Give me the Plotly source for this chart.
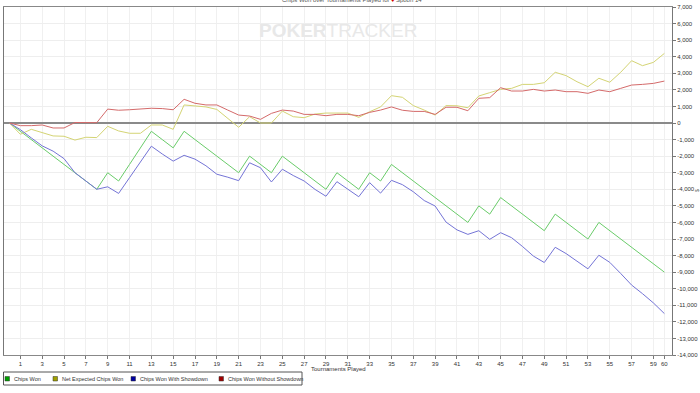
import plotly.graph_objects as go

tournaments = list(range(0, 61))

chips_won = [0, -500, -1000, -1500, -2000, -2500, -3000, -3500, -4000, -3000, -3500,
             -2500, -1500, -500, -1000, -1500, -500, -1000, -1500, -2000, -2500,
             -3000, -2000, -2500, -3000, -2000, -2500, -3000, -3500, -4000, -3000,
             -3500, -4000, -3000, -3500, -2500, -3000, -3500, -4000, -4500, -5000,
             -5500, -6000, -5000, -5500, -4500, -5000, -5500, -6000, -6500, -5500,
             -6000, -6500, -7000, -6000, -6500, -7000, -7500, -8000, -8500, -9000]

net_expected = [0, -680, -380, -580, -780, -800, -1030, -860, -880, -200, -480,
                -620, -620, -120, -120, -380, 1090, 1030, 970, 820, 280,
                -260, 380, 0, 0, 720, 380, 320, 540, 600, 600,
                600, 340, 680, 970, 1650, 1550, 1050, 780, 480, 1050,
                1040, 920, 1630, 1830, 2030, 2090, 2330, 2330, 2430, 3060,
                2860, 2490, 2190, 2700, 2460, 3060, 3760, 3460, 3660, 4200]

with_showdown = [0, -400, -900, -1380, -1700, -2150, -3000, -3500, -4000, -3850, -4250,
                 -3300, -2340, -1400, -1870, -2300, -1950, -2180, -2580, -3090, -3270,
                 -3480, -2400, -2700, -3560, -2790, -3170, -3500, -4010, -4420, -3540,
                 -4010, -4450, -3600, -4230, -3460, -3720, -4150, -4680, -5010, -5980,
                 -6450, -6720, -6500, -7020, -6620, -6920, -7450, -8030, -8420, -7500,
                 -7880, -8350, -8800, -7980, -8410, -9080, -9780, -10300, -10860, -11500]

without_showdown = [0, -160, -160, -120, -300, -300, 30, 20, 20, 840, 770,
                    800, 840, 890, 870, 800, 1430, 1190, 1090, 1090, 780,
                    480, 420, 220, 580, 780, 720, 520, 520, 440, 520,
                    520, 440, 640, 780, 970, 770, 700, 700, 520, 950,
                    950, 740, 1490, 1530, 2130, 1930, 1930, 2030, 1930, 1990,
                    1890, 1890, 1790, 1990, 1890, 2090, 2290, 2330, 2390, 2530]

series_names = ["Chips Won", "Net Expected Chips Won", "Chips Won With Showdown",
                "Chips Won Without Showdown"]
series_values = [chips_won, net_expected, with_showdown, without_showdown]
line_colors = ["#6acc6a", "#d4d474", "#7474d6", "#d46a6a"]
legend_colors = ["#00a000", "#a0a000", "#0000a0", "#a00000"]

x_tickvals = list(range(1, 60, 2)) + [60]
x_ticktext = [str(v) for v in x_tickvals]
y_tickvals = list(range(-14000, 7001, 1000))
y_ticktext = [("-" if v < 0 else "") + f"{abs(v):,}" for v in y_tickvals]

chart_title = "Chips Won over Tournaments Played for <span style='color:#d00000'>♦</span> Spoon 14"
x_title = "Tournaments Played"

W, H = 700, 393
L, R, T, B = 4, 28, 7, 38
PW, PH = W - L - R, H - T - B


def px_x(px):
    return (px - L) / PW


def px_y(py):
    return (H - B - py) / PH


fig = go.Figure()
for name, vals, col in zip(series_names, series_values, line_colors):
    fig.add_trace(go.Scatter(x=tournaments, y=vals, mode="lines", name=name,
                             line=dict(color=col, width=1), showlegend=False,
                             hoverinfo="skip"))

font_family = "Liberation Sans, Arial, sans-serif"

shapes = [dict(type="rect", xref="paper", yref="paper",
               x0=px_x(3.5), x1=px_x(302), y0=px_y(372), y1=px_y(385),
               line=dict(color="#555555", width=1), fillcolor="white", layer="above")]
annotations = []
sq_left = [5, 53, 131, 219]
for name, col, sx in zip(series_names, legend_colors, sq_left):
    shapes.append(dict(type="rect", xref="paper", yref="paper",
                       x0=px_x(sx), x1=px_x(sx + 4.5), y0=px_y(376.5), y1=px_y(381),
                       line=dict(color="#333333", width=0.5), fillcolor=col, layer="above"))
    annotations.append(dict(text=name, xref="paper", yref="paper", x=px_x(sx + 6.5), y=px_y(378.8),
                            xanchor="left", yanchor="middle", showarrow=False,
                            font=dict(size=5.5, color="#333333", family=font_family)))

annotations.append(dict(text=chart_title, xref="paper", yref="paper", x=px_x(352), y=px_y(0),
                        xanchor="center", yanchor="middle", showarrow=False,
                        font=dict(size=6, color="#555555", family=font_family)))
annotations.append(dict(text="<b>POKER</b>TRACKER", xref="paper", yref="paper",
                        x=px_x(338), y=px_y(30), xanchor="center", yanchor="middle",
                        showarrow=False,
                        font=dict(size=19, color="#e8e8e8", family=font_family)))
annotations.append(dict(text="$", xref="paper", yref="paper", x=px_x(697), y=px_y(191),
                        xanchor="center", yanchor="middle", showarrow=False, textangle=-90,
                        font=dict(size=5, color="#555555", family=font_family)))
annotations.append(dict(text=x_title, xref="paper", yref="paper", x=px_x(338), y=px_y(369),
                        xanchor="center", yanchor="middle", showarrow=False,
                        font=dict(size=6, color="#333333", family=font_family)))

fig.update_layout(
    width=W, height=H,
    margin=dict(l=L, r=R, t=T, b=B, pad=0, autoexpand=False),
    paper_bgcolor="white", plot_bgcolor="white",
    font=dict(family=font_family, size=6, color="#333333"),
    showlegend=False,
    shapes=shapes,
    annotations=annotations,
    xaxis=dict(range=[-0.5, 60.7], tickvals=x_tickvals, ticktext=x_ticktext,
               ticks="outside", ticklen=3, tickcolor="#777777",
               tickfont=dict(size=6, color="#333333"),
               showgrid=True, gridcolor="#f0f0f0", gridwidth=1,
               showline=True, linecolor="#888888", linewidth=1, mirror=True,
               zeroline=False, fixedrange=True, automargin=False),
    yaxis=dict(range=[-14000, 7000], side="right", tickvals=y_tickvals, ticktext=y_ticktext,
               ticks="outside", ticklen=3, tickcolor="#777777",
               tickfont=dict(size=6, color="#333333"),
               showgrid=True, gridcolor="#eeeeee", gridwidth=1,
               showline=True, linecolor="#777777", linewidth=1, mirror=True,
               zeroline=True, zerolinecolor="#8a8a8a", zerolinewidth=1.5, fixedrange=True,
               automargin=False),
)

fig.write_html("out.html", config={"displayModeBar": False},
               post_script="document.body.style.margin='0';document.body.style.padding='0';"
                           "document.body.style.overflow='hidden';")
